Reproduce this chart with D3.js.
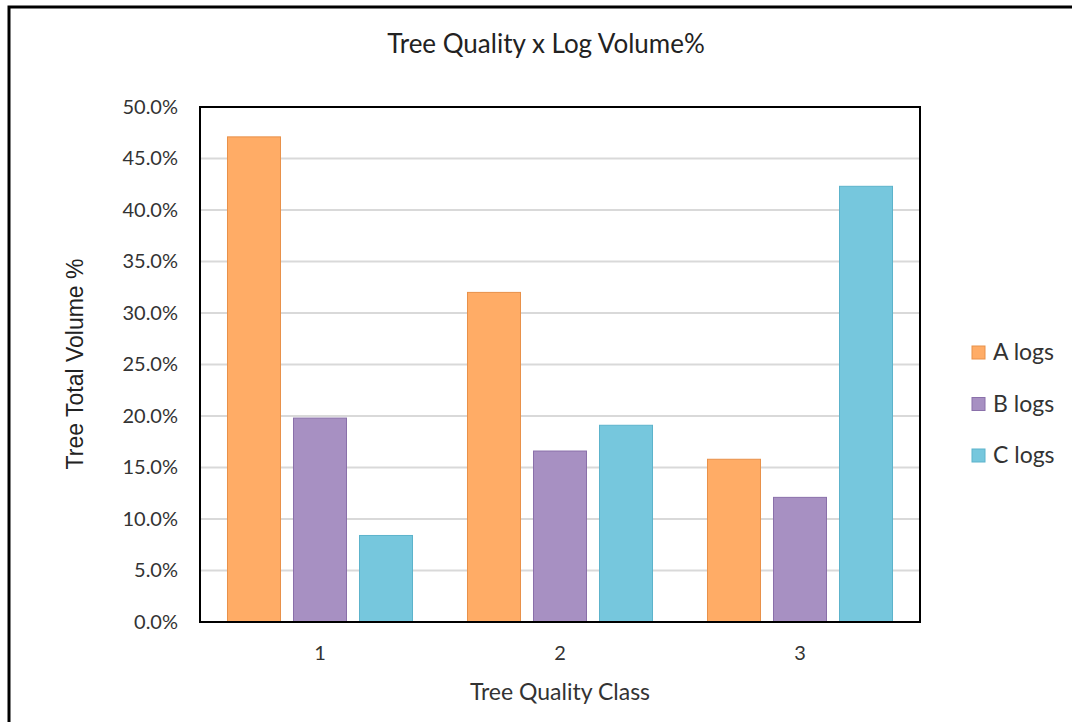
<!DOCTYPE html>
<html>
<head>
<meta charset="utf-8">
<script src="https://cdn.jsdelivr.net/npm/d3@7"></script>
<style>
  html, body { margin: 0; padding: 0; background: #fff; }
  svg { display: block; }
</style>
</head>
<body>
<svg id="chart" width="1072" height="722"></svg>
<script>
const categories = ["1", "2", "3"];
const seriesNames = ["A logs", "B logs", "C logs"];
const aLogs = [47.1, 32.0, 15.8];
const bLogs = [19.8, 16.6, 12.1];
const cLogs = [8.4, 19.1, 42.3];
const yTicks = [0, 5, 10, 15, 20, 25, 30, 35, 40, 45, 50];
const title = "Tree Quality x Log Volume%";
const xTitle = "Tree Quality Class";
const yTitle = "Tree Total Volume %";

const seriesValues = [aLogs, bLogs, cLogs];
const fills = ["#FFAC66", "#A790C2", "#76C7DD"];
const strokes = ["#E8914A", "#8A70AA", "#5CB3CB"];

const svg = d3.select("#chart");
const pLeft = 200, pRight = 920, pTop = 107, pBottom = 622;
const font = "Lato, 'Open Sans', sans-serif";

// outer frame
svg.append("path")
  .attr("d", `M9,730 L9,7 L1080,7`)
  .attr("fill", "none").attr("stroke", "#000").attr("stroke-width", 3);

svg.append("text")
  .attr("x", 546).attr("y", 53)
  .attr("text-anchor", "middle")
  .attr("font-family", font)
  .attr("font-size", 26).attr("fill", "#222")
  .text(title);

const y = d3.scaleLinear().domain([0, 50]).range([pBottom, pTop]);
const x0 = d3.scaleBand().domain(categories).range([pLeft, pRight]).padding(0);
const x1 = d3.scaleBand().domain(seriesNames).range([0, x0.bandwidth()])
  .paddingInner(0.1818).paddingOuter(0.409);

// gridlines
svg.append("g").selectAll("line").data(yTicks.filter(t => t > 0 && t < 50)).join("line")
  .attr("x1", pLeft).attr("x2", pRight)
  .attr("y1", d => y(d)).attr("y2", d => y(d))
  .attr("stroke", "#D9D9D9").attr("stroke-width", 2);

// bars
const data = [];
categories.forEach((c, i) => seriesNames.forEach((s, j) => data.push({c, s, j, v: seriesValues[j][i]})));
svg.append("g").selectAll("rect").data(data).join("rect")
  .attr("x", d => x0(d.c) + x1(d.s) + 0.5)
  .attr("y", d => y(d.v))
  .attr("width", x1.bandwidth() - 1)
  .attr("height", d => y(0) - y(d.v))
  .attr("fill", d => fills[d.j])
  .attr("stroke", d => strokes[d.j]).attr("stroke-width", 1);

// plot area border
svg.append("rect")
  .attr("x", pLeft).attr("y", pTop).attr("width", pRight - pLeft).attr("height", pBottom - pTop)
  .attr("fill", "none").attr("stroke", "#000").attr("stroke-width", 2);

// y axis labels
const yAxis = d3.axisLeft(y).tickValues(yTicks).tickFormat(d => d.toFixed(1) + "%").tickSize(0).tickPadding(22);
const gy = svg.append("g").attr("transform", `translate(${pLeft},0)`).call(yAxis);
gy.select(".domain").remove();
gy.selectAll("text").attr("font-family", font).attr("font-size", 20).attr("fill", "#333");

// x axis labels
const xAxis = d3.axisBottom(x0).tickSize(0).tickPadding(24);
const gx = svg.append("g").attr("transform", `translate(0,${pBottom})`).call(xAxis);
gx.select(".domain").remove();
gx.selectAll("text").attr("font-family", font).attr("font-size", 20).attr("fill", "#333");

svg.append("text")
  .attr("x", 560).attr("y", 700)
  .attr("text-anchor", "middle")
  .attr("font-family", font)
  .attr("font-size", 23).attr("fill", "#333")
  .text(xTitle);

svg.append("text")
  .attr("transform", `translate(83,364) rotate(-90)`)
  .attr("text-anchor", "middle")
  .attr("font-family", "'Liberation Sans', Arial, sans-serif")
  .attr("font-size", 23).attr("fill", "#222")
  .text(yTitle);

// legend
const lg = svg.append("g").selectAll("g").data(seriesNames).join("g")
  .attr("transform", (d, i) => `translate(972,${346 + i * 51.5})`);
lg.append("rect").attr("width", 13).attr("height", 13)
  .attr("fill", (d, i) => fills[i]).attr("stroke", (d, i) => strokes[i]);
lg.append("text").attr("x", 21).attr("y", 14)
  .attr("font-family", font)
  .attr("font-size", 23).attr("fill", "#333")
  .text(d => d);
</script>
</body>
</html>
